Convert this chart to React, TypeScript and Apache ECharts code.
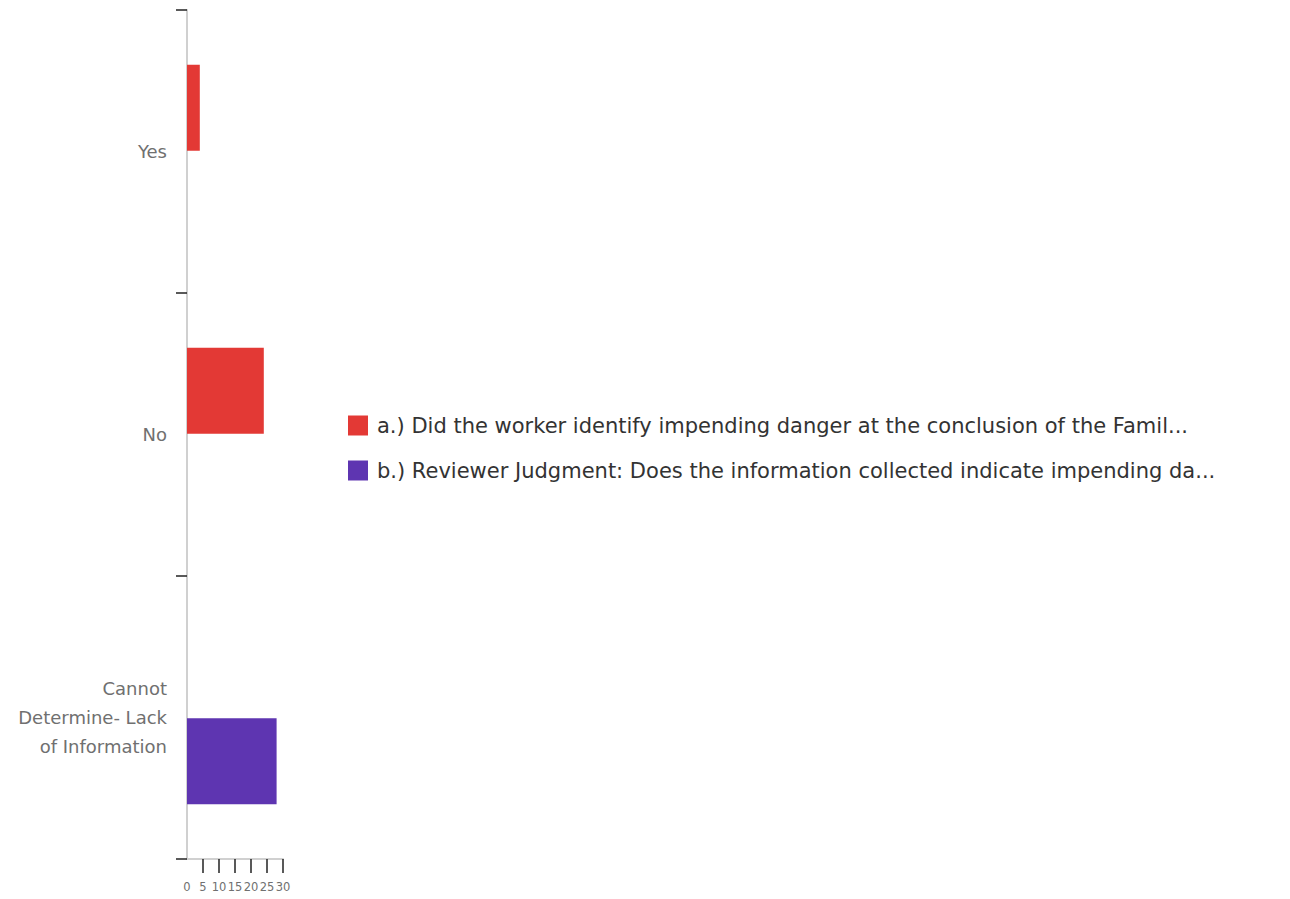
import React, { useEffect, useRef } from "react";
import * as echarts from "echarts";

const categories = ["Yes", "No", "Cannot Determine- Lack of Information"];
const seriesNames = [
  "a.) Did the worker identify impending danger at the conclusion of the Famil...",
  "b.) Reviewer Judgment: Does the information collected indicate impending da...",
];
const seriesA = [4, 24, null];
const seriesB = [null, null, 28];
const xTicks = [0, 5, 10, 15, 20, 25, 30];
const colors = ["#e33935", "#5e35b1"];

const FONT = "DejaVu Sans";

export default function App() {
  const ref = useRef<HTMLDivElement>(null);
  useEffect(() => {
    const chart = echarts.init(ref.current!, undefined, { renderer: "svg" });
    chart.setOption({
      animation: false,
      textStyle: { fontFamily: FONT },
      grid: { left: 187, right: 1290 - 283, top: 10, bottom: 899 - 859, containLabel: false },
      legend: {
        orient: "vertical",
        left: 348,
        top: 415,
        padding: 0,
        icon: "rect",
        itemWidth: 20,
        itemHeight: 20,
        itemGap: 24,
        textStyle: { fontSize: 21, color: "#333", fontFamily: FONT, padding: [0, 0, 0, 4] },
        data: seriesNames,
      },
      xAxis: {
        type: "value",
        min: xTicks[0],
        max: xTicks[xTicks.length - 1],
        interval: 5,
        splitLine: { show: false },
        axisLine: { show: true, lineStyle: { color: "#d0d0d0", width: 2 } },
        axisTick: {
          show: true,
          length: 14,
          customValues: xTicks.slice(1),
          lineStyle: { color: "#222", width: 1.5 },
        },
        axisLabel: {
          color: "#707070",
          fontSize: 11.5,
          margin: 22,
          fontFamily: FONT,
          showMinLabel: true,
          showMaxLabel: true,
          hideOverlap: false,
        },
      },
      yAxis: {
        type: "category",
        inverse: true,
        data: categories,
        axisLine: { show: true, lineStyle: { color: "#d0d0d0", width: 2 } },
        axisTick: { show: true, length: 11, lineStyle: { color: "#222", width: 1.5 } },
        axisLabel: {
          color: "#707070",
          fontSize: 18,
          margin: 20,
          lineHeight: 29,
          fontFamily: FONT,
          formatter: (v: string) =>
            v === "Cannot Determine- Lack of Information" ? "Cannot\nDetermine- Lack\nof Information" : v,
        },
      },
      series: [
        {
          name: seriesNames[0],
          type: "bar",
          data: seriesA,
          barWidth: 86,
          barGap: "2%",
          itemStyle: { color: colors[0] },
        },
        {
          name: seriesNames[1],
          type: "bar",
          data: seriesB,
          barWidth: 86,
          barGap: "2%",
          itemStyle: { color: colors[1] },
        },
      ],
    });
    return () => chart.dispose();
  }, []);
  return (
    <div
      ref={ref}
      style={{ position: "fixed", left: 0, top: 0, width: 1290, height: 899, background: "#fff" }}
    />
  );
}
